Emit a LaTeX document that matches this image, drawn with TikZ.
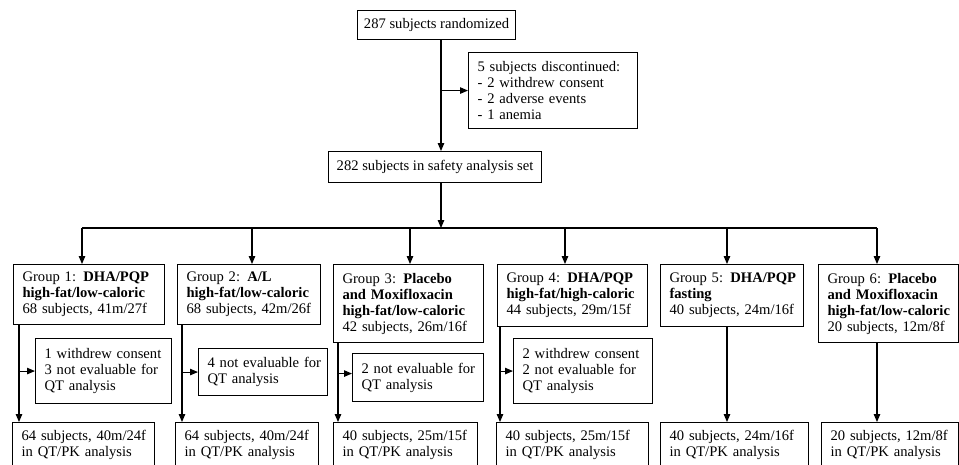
\documentclass[tikz,border=0pt]{standalone}
\usepackage{fontspec}
\setmainfont{Liberation Serif}
\usetikzlibrary{arrows.meta}
\newcommand\mlx[1]{\mbox{#1}}
\begin{document}
\begin{tikzpicture}[x=1pt,y=-1pt,
  font=\fontsize{14.6}{16}\selectfont,
  bx/.style={draw, line width=1.1pt, inner xsep=9pt, inner ysep=0pt, align=left, anchor=north west},
  cbx/.style={draw, line width=1.1pt, inner sep=0pt, align=center, anchor=north west},
  arr/.style={line width=1.1pt, -{Triangle[length=8pt,width=6.5pt]}},
  ln/.style={line width=1.1pt}]
\useasboundingbox (0,0) rectangle (959,464);
\clip (0,0) rectangle (959,464);
% top part
\node[cbx, minimum width=158pt, minimum height=29pt] (top) at (357,10) {287 subjects randomized};
\node[bx, text width=151pt, minimum height=76pt] (disc) at (468,52)
  {\mlx{5 subjects discontinued:}\\\mlx{- 2 withdrew consent}\\\mlx{- 2 adverse events}\\\mlx{- 1 anemia}};
\node[cbx, minimum width=213pt, minimum height=31pt] (safety) at (328,151) {282 subjects in safety analysis set};
% groups
\node[bx, text width=133pt, minimum height=60pt] (g1) at (13,264)
  {\mlx{Group 1: \textbf{DHA/PQP}}\\\mlx{\textbf{high-fat/low-caloric}}\\\mlx{68 subjects, 41m/27f}};
\node[bx, text width=125pt, minimum height=60pt] (g2) at (177,264)
  {\mlx{Group 2: \textbf{A/L}}\\\mlx{\textbf{high-fat/low-caloric}}\\\mlx{68 subjects, 42m/26f}};
\node[bx, text width=132pt, minimum height=78pt] (g3) at (333,264)
  {\mlx{Group 3: \textbf{Placebo}}\\\mlx{\textbf{and Moxifloxacin}}\\\mlx{\textbf{high-fat/low-caloric}}\\\mlx{42 subjects, 26m/16f}};
\node[bx, text width=132pt, minimum height=62pt] (g4) at (497,264)
  {\mlx{Group 4: \textbf{DHA/PQP}}\\\mlx{\textbf{high-fat/high-caloric}}\\\mlx{44 subjects, 29m/15f}};
\node[bx, text width=125pt, minimum height=62pt] (g5) at (660,264)
  {\mlx{Group 5: \textbf{DHA/PQP}}\\\mlx{\textbf{fasting}}\\\mlx{40 subjects, 24m/16f}};
\node[bx, text width=122pt, minimum height=78pt] (g6) at (818,264)
  {\mlx{Group 6: \textbf{Placebo}}\\\mlx{\textbf{and Moxifloxacin}}\\\mlx{\textbf{high-fat/low-caloric}}\\\mlx{20 subjects, 12m/8f}};
% side boxes
\node[bx, text width=118pt, minimum height=65pt] (s1) at (35,338)
  {\mlx{1 withdrew consent}\\\mlx{3 not evaluable for}\\\mlx{QT analysis}};
\node[bx, text width=111pt, minimum height=47pt] (s2) at (198,348)
  {\mlx{4 not evaluable for}\\\mlx{QT analysis}};
\node[bx, text width=113pt, minimum height=48pt] (s3) at (352,353)
  {\mlx{2 not evaluable for}\\\mlx{QT analysis}};
\node[bx, text width=121pt, minimum height=65pt] (s4) at (513,338)
  {\mlx{2 withdrew consent}\\\mlx{2 not evaluable for}\\\mlx{QT analysis}};
% bottom boxes
\node[bx, text width=124pt, minimum height=45pt] (b1) at (12,422)
  {\mlx{64 subjects, 40m/24f}\\\mlx{in QT/PK analysis}};
\node[bx, text width=125pt, minimum height=45pt] (b2) at (175,422)
  {\mlx{64 subjects, 40m/24f}\\\mlx{in QT/PK analysis}};
\node[bx, text width=126pt, minimum height=45pt] (b3) at (333,422)
  {\mlx{40 subjects, 25m/15f}\\\mlx{in QT/PK analysis}};
\node[bx, text width=134pt, minimum height=45pt] (b4) at (496,422)
  {\mlx{40 subjects, 25m/15f}\\\mlx{in QT/PK analysis}};
\node[bx, text width=130pt, minimum height=45pt] (b5) at (660,422)
  {\mlx{40 subjects, 24m/16f}\\\mlx{in QT/PK analysis}};
\node[bx, text width=119pt, minimum height=45pt] (b6) at (821,422)
  {\mlx{20 subjects, 12m/8f}\\\mlx{in QT/PK analysis}};
% connectors
\coordinate (m) at (441,0);
\draw[arr] (top.south -| m) -- (safety.north -| m);
\draw[arr] (disc.west -| m) -- (disc.west);
\coordinate (bus) at (441,228);
\draw[arr] (safety.south -| m) -- (bus);
\coordinate (t1) at (82,228);
\coordinate (t2) at (252,228);
\coordinate (t3) at (410,228);
\coordinate (t4) at (565,228);
\coordinate (t5) at (727,228);
\coordinate (t6) at (877,228);
\draw[ln] (t1) -- (t6);
\foreach \i in {1,...,6}{\draw[arr] (t\i) -- (t\i |- g\i.north);}
\coordinate (v1) at ([xshift=6pt]g1.south west);
\coordinate (v2) at ([xshift=5pt]g2.south west);
\coordinate (v3) at ([xshift=5pt]g3.south west);
\coordinate (v4) at ([xshift=3pt]g4.south west);
\coordinate (s3in) at ([yshift=4pt]s3.west);
\draw[arr] (v1) -- (v1 |- b1.north);
\draw[arr] (v2) -- (v2 |- b2.north);
\draw[arr] (v3) -- (v3 |- b3.north);
\draw[arr] (v4) -- (v4 |- b4.north);
\draw[arr] (v1 |- s1.west) -- (s1.west);
\draw[arr] (v2 |- s2.west) -- (s2.west);
\draw[arr] (v3 |- s3in) -- (s3in);
\draw[arr] (v4 |- s4.west) -- (s4.west);
\draw[arr] (t5 |- g5.south) -- (t5 |- b5.north);
\draw[arr] (t6 |- g6.south) -- (t6 |- b6.north);
\end{tikzpicture}
\end{document}
